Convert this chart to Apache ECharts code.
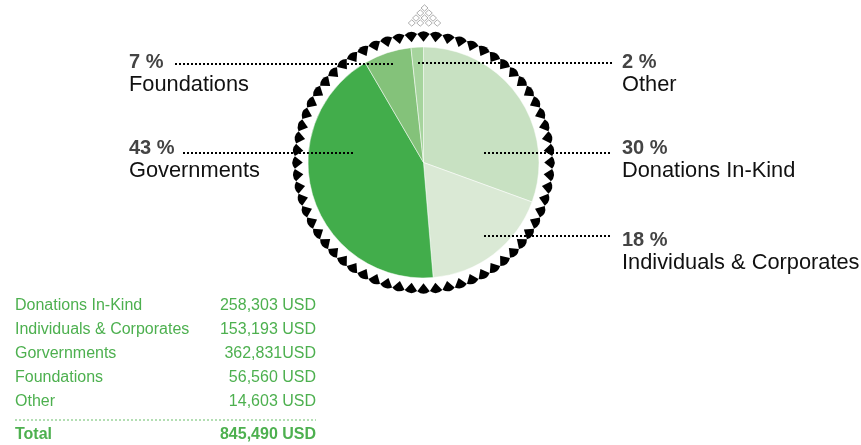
<!DOCTYPE html>
<html><head><meta charset="utf-8">
<script src="https://cdn.jsdelivr.net/npm/echarts@6/dist/echarts.min.js"></script>
<style>html,body{margin:0;padding:0;background:#fff}#c{width:861px;height:445px}</style>
</head><body><div id="c"></div>
<script>
// ---- data ----
const categories = ['Donations In-Kind', 'Individuals & Corporates', 'Governments', 'Foundations', 'Other'];
const amounts = [258303, 153193, 362831, 56560, 14603];
const percentLabels = ['30 %', '18 %', '43 %', '7 %', '2 %'];
const tableNames = ['Donations In-Kind', 'Individuals & Corporates', 'Gorvernments', 'Foundations', 'Other'];
const amountLabels = ['258,303 USD', '153,193 USD', '362,831USD', '56,560 USD', '14,603 USD'];
const totalName = 'Total';
const totalLabel = '845,490 USD';

// ---- style / layout ----
const FONT = '"Liberation Sans", Arial, Helvetica, sans-serif';
const sliceColors = ['#c8e1c2', '#dae9d5', '#42ad4b', '#84c27a', '#a6d49d'];
const green = '#4db04f';
const CX = 423.5, CY = 162.5, R = 115.5, RING = 126;
const labelLayoutCfg = [
  { x: 622, y: 137, align: 'left', line: [484, 612, 153] },
  { x: 622, y: 229, align: 'left', line: [484, 612, 236] },
  { x: 129, y: 137, align: 'left', line: [183, 354, 153] },
  { x: 129, y: 51, align: 'left', line: [175, 394, 64] },
  { x: 622, y: 51, align: 'left', line: [418, 612, 63] }
];
const ringCount = 64;

const chart = echarts.init(document.getElementById('c'), null, { renderer: 'canvas' });

const pieData = categories.map((c, i) => ({ name: c, value: amounts[i], itemStyle: { color: sliceColors[i] } }));

const ringData = [];
for (let k = 0; k < ringCount; k++) {
  const a = k * 360 / ringCount;
  ringData.push({ value: [1, a], symbolRotate: -a });
}

const graphics = [];
// label dotted lines
labelLayoutCfg.forEach(l => {
  graphics.push({ type: 'line', z: 100, shape: { x1: l.line[0], y1: l.line[2], x2: l.line[1], y2: l.line[2] },
    style: { stroke: '#000', lineWidth: 2, lineDash: [2, 2] } });
});
// table
const rowY0 = 306, rowStep = 24;
const tFont = '16px ' + FONT;
tableNames.forEach((n, i) => {
  graphics.push({ type: 'text', x: 15, y: rowY0 + i * rowStep,
    style: { text: n, font: tFont, fill: green, textAlign: 'left', textVerticalAlign: 'middle' } });
  graphics.push({ type: 'text', x: 316, y: rowY0 + i * rowStep,
    style: { text: amountLabels[i], font: tFont, fill: green, textAlign: 'right', textVerticalAlign: 'middle' } });
});
graphics.push({ type: 'line', shape: { x1: 15, y1: 420, x2: 316, y2: 420 },
  style: { stroke: '#9ad49a', lineWidth: 1.5, lineDash: [2, 2] } });
graphics.push({ type: 'text', x: 15, y: 435,
  style: { text: totalName, font: 'bold 16px ' + FONT, fill: green, textAlign: 'left', textVerticalAlign: 'middle' } });
graphics.push({ type: 'text', x: 316, y: 435,
  style: { text: totalLabel, font: 'bold 16px ' + FONT, fill: green, textAlign: 'right', textVerticalAlign: 'middle' } });
// ornament of diamonds
for (let row = 0; row < 4; row++) {
  for (let j = 0; j <= row; j++) {
    const x = CX + 1 + (j - row / 2) * 8.5;
    const y = 8 + row * 5;
    graphics.push({ type: 'polygon', shape: { points: [[x, y - 3.2], [x + 3.5, y], [x, y + 3.2], [x - 3.5, y]] },
      style: { fill: '#fff', stroke: '#999', lineWidth: 0.8 } });
  }
}

chart.setOption({
  animation: false,
  backgroundColor: '#fff',
  polar: { center: [CX, CY], radius: RING },
  angleAxis: { type: 'value', min: 0, max: 360, startAngle: 90, clockwise: true, show: false },
  radiusAxis: { type: 'value', min: 0, max: 1, show: false },
  graphic: graphics,
  series: [
    {
      type: 'pie',
      center: [CX, CY],
      radius: R,
      startAngle: 90,
      clockwise: true,
      avoidLabelOverlap: false,
      itemStyle: { borderColor: '#fff', borderWidth: 0.5 },
      emphasis: { disabled: true },
      labelLine: { show: false },
      label: {
        show: true,
        position: 'outside',
        formatter: p => '{p|' + percentLabels[p.dataIndex] + '}\n{n|' + p.name + '}',
        rich: {
          p: { fontFamily: FONT, fontWeight: 'bold', fontSize: 20, color: '#444', lineHeight: 22 },
          n: { fontFamily: FONT, fontSize: 21.8, color: '#111', lineHeight: 24 }
        }
      },
      labelLayout: params => {
        const l = labelLayoutCfg[params.dataIndex];
        return { x: l.x, y: l.y, align: l.align, verticalAlign: 'top' };
      },
      data: pieData
    },
    {
      type: 'scatter',
      coordinateSystem: 'polar',
      symbol: 'path://M5,10 L0,2.5 Q5,-2.5 10,2.5 Z',
      symbolSize: [12.5, 10.5],
      itemStyle: { color: '#000', opacity: 1 },
      silent: true,
      data: ringData
    }
  ]
});
</script>
</body></html>
